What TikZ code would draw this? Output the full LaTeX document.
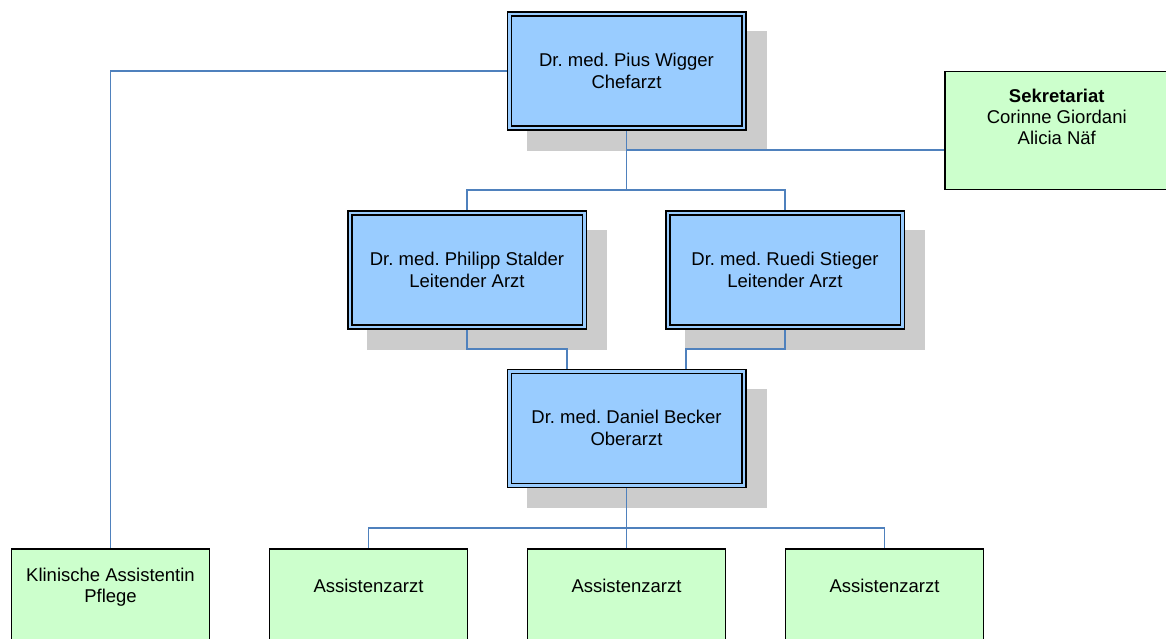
\documentclass[tikz,border=0pt]{standalone}
\usepackage{fontspec}
\setmainfont{Liberation Sans}
\usetikzlibrary{positioning, calc, backgrounds}
\frenchspacing

\definecolor{boxblue}{RGB}{153,204,255}
\definecolor{cardgreen}{RGB}{204,255,204}
\definecolor{shadowgray}{RGB}{204,204,204}
\definecolor{linkblue}{RGB}{79,129,189}

% fixed-size card, text hung from the top edge
\newcommand{\cardtext}[4]{\parbox[c][#2][t]{#1}{\centering\rule{0pt}{#3}#4}}

\begin{document}
\begin{tikzpicture}[
    x=1pt, y=-1pt,
    node distance=58.5pt,
    doctor/.style={rectangle, draw=black, line width=1.5pt, double=boxblue, double distance=2.5pt, fill=boxblue, minimum width=234.5pt, minimum height=114pt, outer sep=2.75pt, align=center, font=\fontsize{18.5}{22}\selectfont},
    card/.style={rectangle, draw=black, line width=1.5pt, fill=cardgreen, inner sep=0pt, font=\fontsize{18.5}{21}\selectfont},
    link/.style={draw=linkblue, line width=1.6pt}
]

\useasboundingbox (0,0) rectangle (1166,639);

% Chefarzt
\node[doctor] (chef) at (626.5,71.25) {Dr. med. Pius Wigger\\Chefarzt};

% Sekretariat
\node[card] (sek) at (1056.75,130.5) {\cardtext{224pt}{117.5pt}{30.5pt}{\textbf{Sekretariat}\\Corinne Giordani\\Alicia Näf}};

% Leitende Aerzte
\node[doctor] (stalder) at (467,269.75) {Dr. med. Philipp Stalder\\Leitender Arzt};
\node[doctor, right=78pt of stalder] (stieger) {Dr. med. Ruedi Stieger\\Leitender Arzt};

% Oberarzt
\node[doctor] (becker) at (626.5,428.25) {Dr. med. Daniel Becker\\Oberarzt};

% Bottom row
\node[card] (kl) at (110.5,608.75) {\cardtext{198pt}{120pt}{33pt}{Klinische Assistentin\\Pflege}};
\node[card, right=of kl] (ass1) {\cardtext{198pt}{120pt}{43.5pt}{Assistenzarzt}};
\node[card, right=of ass1] (ass2) {\cardtext{198pt}{120pt}{43.5pt}{Assistenzarzt}};
\node[card, right=of ass2] (ass3) {\cardtext{198pt}{120pt}{43.5pt}{Assistenzarzt}};

% Shadows
\begin{scope}[on background layer]
\foreach \n in {chef, stalder, stieger, becker}
  \fill[shadowgray] ($(\n.north west)+(20,20)$) rectangle ($(\n.south east)+(20,20)$);
\end{scope}

% Connectors
\draw[link] (chef.west) -| (kl.north);
\coordinate (j1) at ($(chef.south)+(0,19)$);
\draw[link] (chef.south) -- (j1) -- (j1 -| sek.west);
\coordinate (j2) at ($(chef.south)+(0,59.2)$);
\draw[link] (j1) -- (j2) -| (stalder.north);
\draw[link] (j2) -| (stieger.north);

\draw[link] (stalder.south) -- ++(0,19.2) -| ([xshift=-59.5pt]becker.north);
\draw[link] (stieger.south) -- ++(0,19.2) -| ([xshift=59.5pt]becker.north);

\coordinate (j3) at ($(becker.south)+(0,39.7)$);
\draw[link] (becker.south) -- (j3);
\foreach \a in {ass1, ass2, ass3}
  \draw[link] (j3) -| (\a.north);

\end{tikzpicture}
\end{document}
